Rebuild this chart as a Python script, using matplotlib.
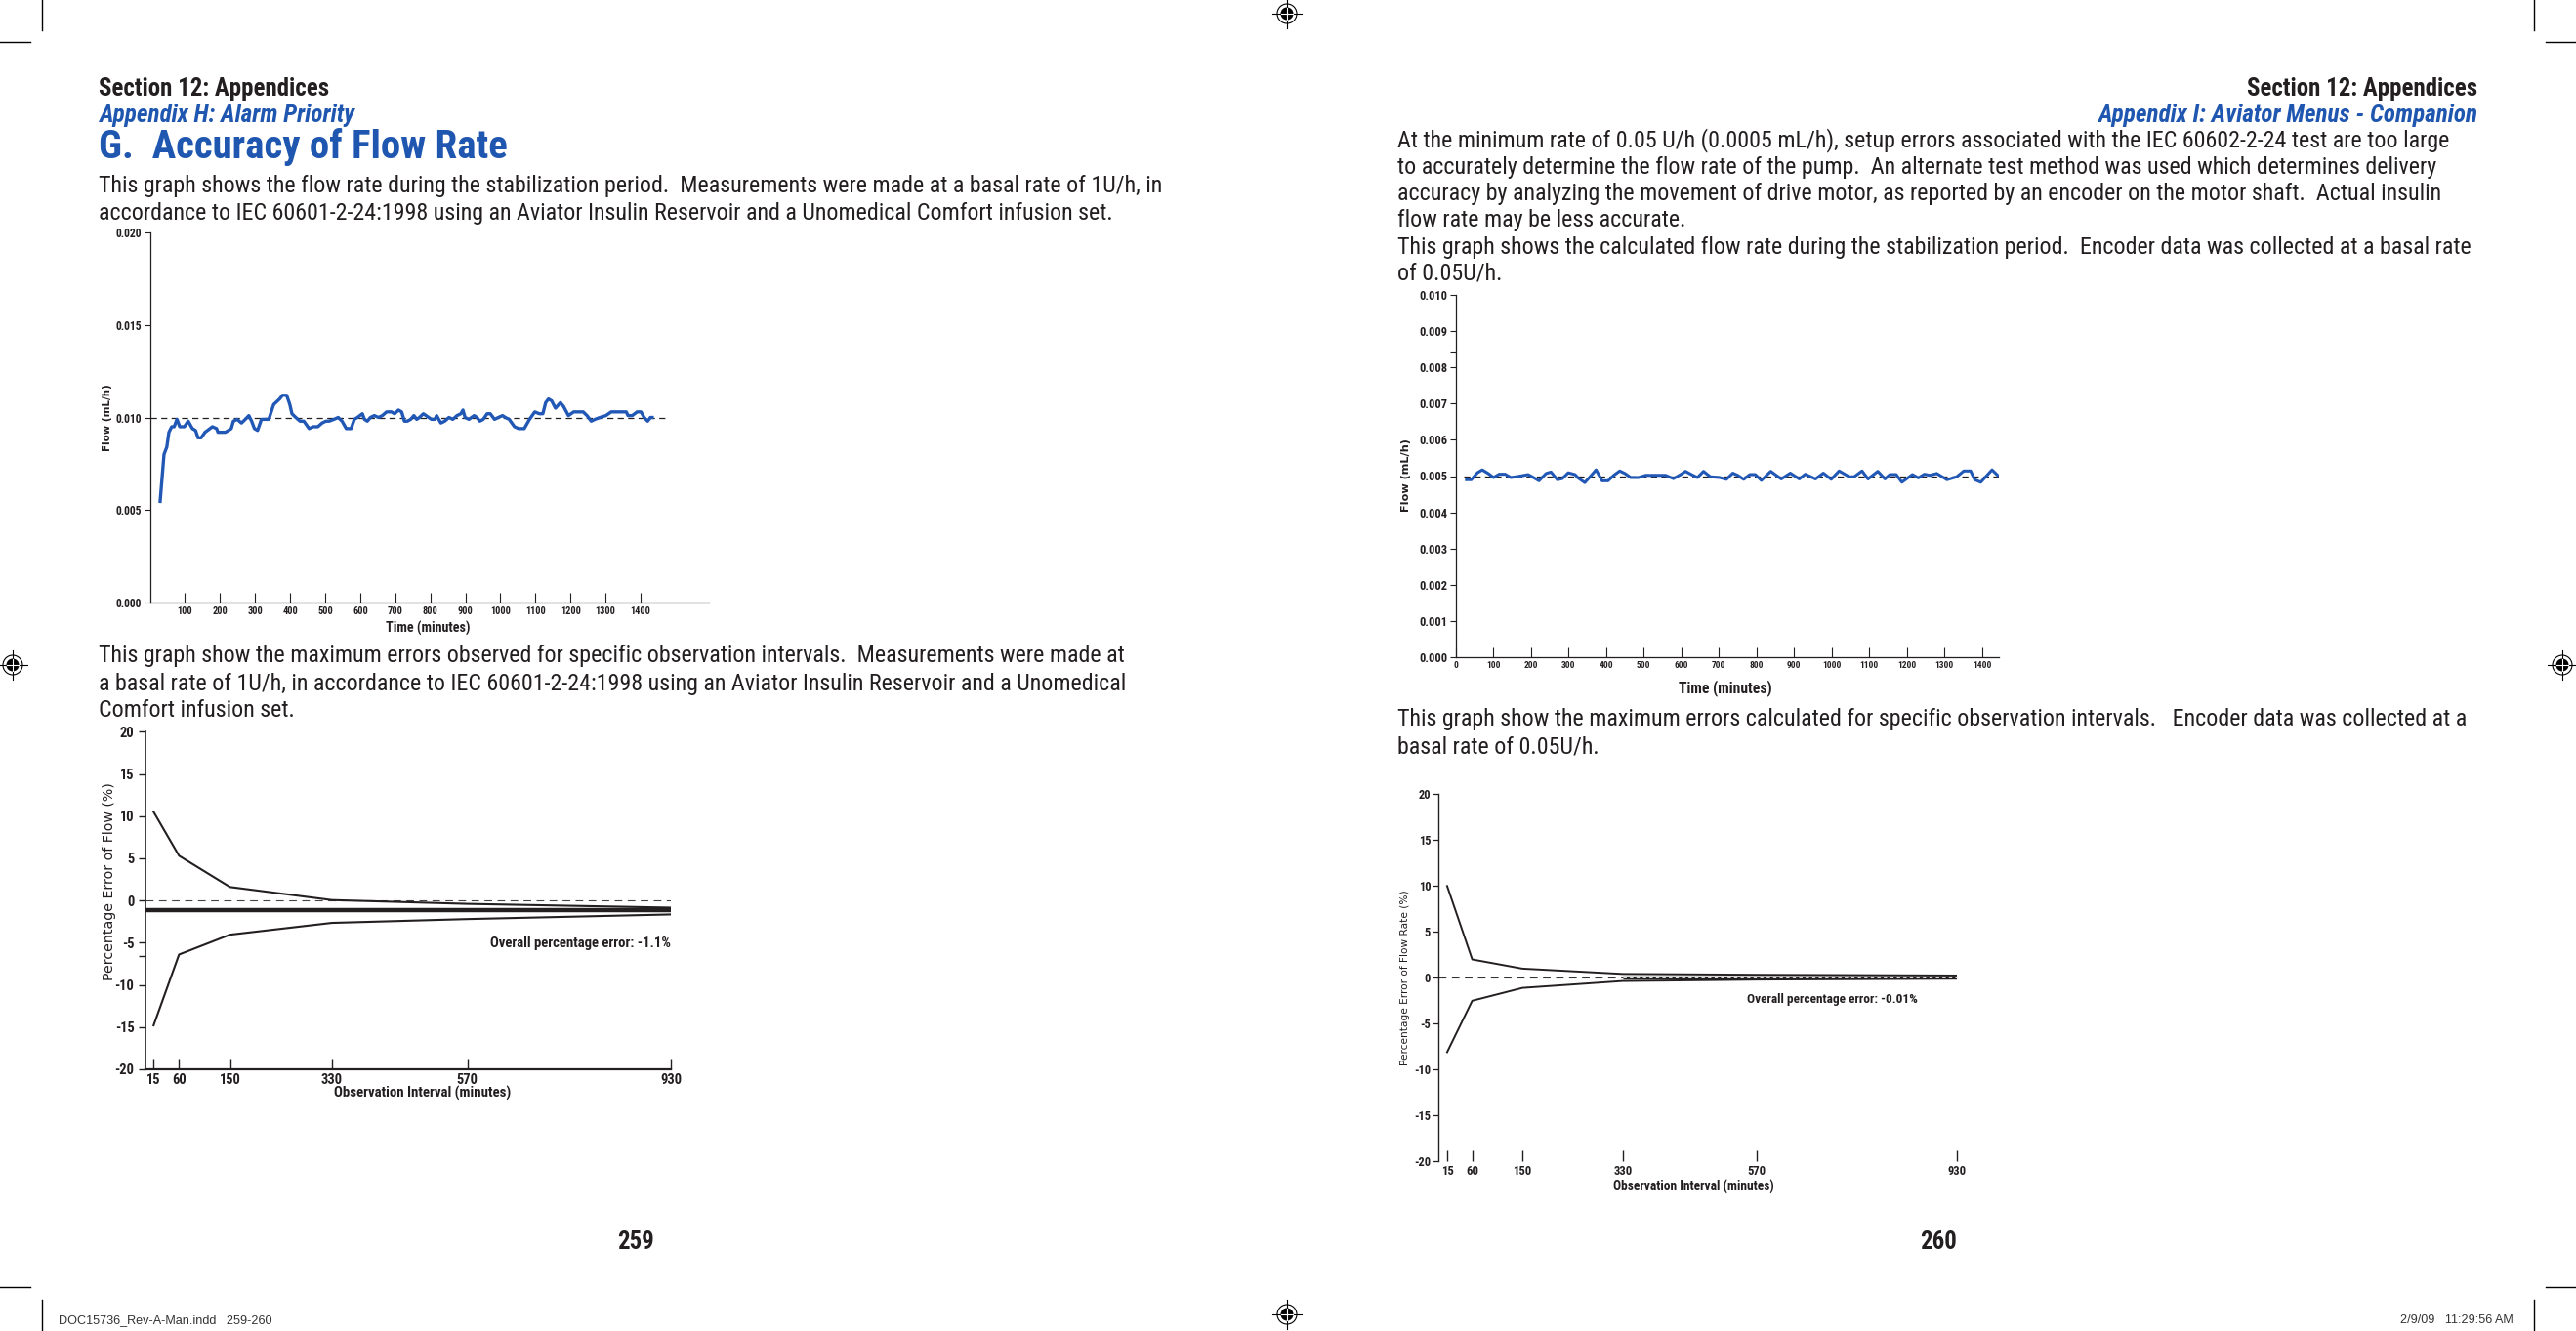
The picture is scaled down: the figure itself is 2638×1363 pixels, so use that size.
import matplotlib
matplotlib.use('Agg')
import matplotlib.pyplot as plt
from matplotlib.patches import Circle
from matplotlib import font_manager

# ---------------- data ----------------
# Chart 1: flow rate during stabilisation, basal 1 U/h
flow1_time = [29, 40, 48, 54, 62, 69, 77, 85, 98, 109, 121, 130, 137, 146, 157, 178, 190, 194, 215, 224,
              232, 238, 249, 261, 272, 282, 290, 298, 307, 318, 339, 353, 370, 378, 390, 399, 405, 416, 428, 439,
              454, 466, 479, 491, 502, 511, 525, 537, 548, 560, 574, 583, 592, 606, 612, 620, 629, 640, 652, 663,
              675, 689, 698, 709, 718, 726, 734, 744, 753, 761, 769, 780, 795, 803, 813, 818, 830, 841, 853, 864,
              876, 887, 893, 899, 910, 925, 933, 941, 951, 962, 971, 983, 994, 1006, 1014, 1025, 1040, 1052, 1068, 1083,
              1098, 1111, 1121, 1129, 1137, 1146, 1157, 1171, 1180, 1194, 1209, 1224, 1236, 1247, 1259, 1270, 1284, 1301, 1316, 1336,
              1359, 1364, 1376, 1390, 1401, 1410, 1420, 1428, 1433]
flow1_value = [0.00546, 0.0080, 0.0084, 0.0092, 0.0095, 0.0095, 0.0099, 0.0095, 0.0095, 0.0098, 0.0094, 0.0093, 0.0089, 0.0089, 0.0092, 0.0095, 0.0094, 0.0092, 0.0092, 0.0093,
               0.0094, 0.0098, 0.0099, 0.0097, 0.0099, 0.0101, 0.0098, 0.0094, 0.0093, 0.0099, 0.0099, 0.0107, 0.0110, 0.0112, 0.0112, 0.0107, 0.0102, 0.0100, 0.0098, 0.0098,
               0.0094, 0.0095, 0.0095, 0.0097, 0.0098, 0.0098, 0.0099, 0.0100, 0.0098, 0.0094, 0.0094, 0.0099, 0.0100, 0.0102, 0.0099, 0.0098, 0.0100, 0.0101, 0.0100, 0.0101,
               0.0103, 0.0103, 0.0102, 0.0104, 0.0103, 0.0098, 0.0098, 0.0099, 0.0101, 0.0099, 0.0100, 0.0102, 0.0100, 0.0099, 0.0099, 0.0101, 0.0097, 0.0098, 0.0100, 0.0099,
               0.0101, 0.0102, 0.0104, 0.0100, 0.0099, 0.0101, 0.0100, 0.0098, 0.0099, 0.0102, 0.0102, 0.0099, 0.0100, 0.0101, 0.0100, 0.0099, 0.0095, 0.0094, 0.0094, 0.0099,
               0.0103, 0.0102, 0.0102, 0.0108, 0.0110, 0.0109, 0.0105, 0.0108, 0.0106, 0.0101, 0.0103, 0.0103, 0.0103, 0.0101, 0.0098, 0.0099, 0.0100, 0.0101, 0.0103, 0.0103,
               0.0103, 0.0101, 0.0101, 0.0103, 0.0103, 0.0100, 0.0098, 0.0100, 0.0100]
flow1_nominal = 0.010
flow1_yticks = [0.000, 0.005, 0.010, 0.015, 0.020]
flow1_xticks = [100, 200, 300, 400, 500, 600, 700, 800, 900, 1000, 1100, 1200, 1300, 1400]

# Chart 2: trumpet curve, basal 1 U/h
interval = [15, 60, 150, 330, 570, 930]
err1_upper = [10.5, 5.3, 1.6, 0.05, -0.4, -0.85]
err1_lower = [-14.8, -6.4, -4.05, -2.65, -2.2, -1.65]
err1_overall = -1.15
err_yticks = [-20, -15, -10, -5, 0, 5, 10, 15, 20]

# Chart 3: calculated flow rate, basal 0.05 U/h
flow2_time = [28, 41, 57, 70, 86, 100, 115, 131, 146, 166, 192, 203, 221, 240, 253, 270, 283, 299, 317, 325,
              343, 357, 373, 389, 405, 420, 436, 450, 465, 486, 505, 528, 558, 579, 598, 611, 627, 643, 659, 677,
              702, 720, 737, 750, 766, 782, 797, 813, 838, 866, 890, 914, 930, 957, 978, 999, 1020, 1047, 1060, 1081,
              1097, 1123, 1142, 1155, 1172, 1187, 1215, 1231, 1247, 1261, 1280, 1307, 1333, 1352, 1370, 1381, 1397, 1427, 1442]
flow2_value = [0.00490, 0.00490, 0.00509, 0.00517, 0.00507, 0.00496, 0.00505, 0.00505, 0.00496, 0.00499, 0.00504, 0.00498, 0.00487, 0.00507, 0.00511, 0.00490, 0.00493, 0.00509, 0.00504, 0.00495,
               0.00482, 0.00498, 0.00517, 0.00487, 0.00487, 0.00502, 0.00514, 0.00507, 0.00496, 0.00496, 0.00502, 0.00502, 0.00502, 0.00493, 0.00504, 0.00513, 0.00504, 0.00496, 0.00513, 0.00498,
               0.00496, 0.00491, 0.00508, 0.00502, 0.00491, 0.00504, 0.00504, 0.00488, 0.00513, 0.00492, 0.00508, 0.00492, 0.00505, 0.00492, 0.00508, 0.00491, 0.00514, 0.00498, 0.00498, 0.00514,
               0.00492, 0.00513, 0.00492, 0.00504, 0.00504, 0.00483, 0.00504, 0.00495, 0.00505, 0.00502, 0.00507, 0.00490, 0.00498, 0.00514, 0.00514, 0.00490, 0.00483, 0.00517, 0.00502]
flow2_nominal = 0.005
flow2_yticks = [0.000, 0.001, 0.002, 0.003, 0.004, 0.005, 0.006, 0.007, 0.008, 0.009, 0.010]
flow2_xticks = [0, 100, 200, 300, 400, 500, 600, 700, 800, 900, 1000, 1100, 1200, 1300, 1400]

# Chart 4: trumpet curve, basal 0.05 U/h
err2_upper = [10.0, 2.0, 1.0, 0.42, 0.33, 0.25]
err2_lower = [-8.1, -2.5, -1.1, -0.35, -0.2, -0.08]
err2_overall = -0.01

# ---------------- fonts ----------------
def first_font(names):
    for n in names:
        try:
            font_manager.findfont(font_manager.FontProperties(family=n), fallback_to_default=False)
            return n
        except Exception:
            continue
    return 'DejaVu Sans'


NARROW = first_font(['Roboto Condensed', 'Liberation Sans Narrow', 'Arial Narrow', 'Liberation Sans'])
COND = [NARROW, 'DejaVu Sans']
WIDE = ['DejaVu Sans']
HELV = [first_font(['Liberation Sans', 'DejaVu Sans']), 'DejaVu Sans']

# ---------------- styling ----------------
W, H, DPI = 2638, 1363, 100
INK = '#231f20'
BLUE = '#2157b5'
HEAD_BLUE = '#1f56b0'

fig = plt.figure(figsize=(W / DPI, H / DPI), dpi=DPI)
fig.patch.set_facecolor('white')
renderer = fig.canvas.get_renderer()


def fit(s, width_px, weight='normal', style='normal', family=None, horizontal=True):
    """font size (pt) that makes string s span width_px pixels"""
    fam = family if family is not None else COND
    t = fig.text(0, 0, s, fontsize=20, fontweight=weight, fontstyle=style, family=fam)
    bb = t.get_window_extent(renderer)
    t.remove()
    return 20.0 * width_px / bb.width


def fx(x):
    return x / W


def fy(y):
    return 1 - y / H


def text(x, y, s, size, ha='left', va='center', weight='normal', style='normal',
         color=INK, family=None, rotation=0):
    fam = family if family is not None else COND
    fig.text(fx(x), fy(y), s, fontsize=size, ha=ha, va=va, fontweight=weight,
             fontstyle=style, color=color, family=fam, rotation=rotation,
             rotation_mode='anchor' if rotation else 'default')


def add_ax(l, r, t, b):
    ax = fig.add_axes([fx(l), fy(b), (r - l) / W, (b - t) / H])
    ax.set_facecolor('none')
    for s in ['top', 'right']:
        ax.spines[s].set_visible(False)
    for s in ['left', 'bottom']:
        ax.spines[s].set_color(INK)
    return ax


def style_ticklabels(ax, xsize, ysize):
    for lbl in ax.get_xticklabels():
        lbl.set_family(COND)
        lbl.set_fontweight('bold')
        lbl.set_fontsize(xsize)
        lbl.set_color(INK)
    for lbl in ax.get_yticklabels():
        lbl.set_family(COND)
        lbl.set_fontweight('bold')
        lbl.set_fontsize(ysize)
        lbl.set_color(INK)


# ---------------- page furniture ----------------
page = fig.add_axes([0, 0, 1, 1])
page.set_xlim(0, W)
page.set_ylim(H, 0)
page.axis('off')

crop_kw = dict(color='black', lw=1.0)
for (x0, x1, y0, y1) in [(43, 43, 0, 31), (0, 31, 43, 43),
                         (W - 43, W - 43, 0, 31), (W - 31, W, 43, 43),
                         (43, 43, 1331, H), (0, 31, 1318, 1318),
                         (W - 43, W - 43, 1331, H), (W - 31, W, 1318, 1318)]:
    page.plot([x0, x1], [y0, y1], **crop_kw)


def reg_mark(cx, cy):
    page.add_patch(Circle((cx, cy), 10, fill=False, ec='black', lw=0.8))
    page.add_patch(Circle((cx, cy), 6.5, fc='black', ec='none'))
    page.plot([cx - 15, cx + 15], [cy, cy], color='black', lw=0.8)
    page.plot([cx, cx], [cy - 15, cy + 15], color='black', lw=0.8)
    page.plot([cx - 6, cx + 6], [cy, cy], color='white', lw=0.8)
    page.plot([cx, cx], [cy - 6, cy + 6], color='white', lw=0.8)


for (cx, cy) in [(1318, 14), (1318, 1346), (13, 681), (2624, 681)]:
    reg_mark(cx, cy)

FOOT = fit('DOC15736_Rev-A-Man.indd   259-260', 218, family=HELV)
text(60, 1352, 'DOC15736_Rev-A-Man.indd   259-260', FOOT, family=HELV, color='#333333')
text(2574, 1352, '2/9/09   11:29:56 AM', FOOT, ha='right', family=HELV, color='#333333')

# ---------------- left page text ----------------
SEC = fit('Section 12: Appendices', 235, weight='bold')
APP = fit('Appendix H: Alarm Priority', 262, weight='bold', style='italic')
TITLE = fit('G.  Accuracy of Flow Rate', 419, weight='bold')
PARA = fit('This graph shows the flow rate during the stabilization period.  Measurements were made at a basal rate of 1U/h, in', 1090)

text(101, 91, 'Section 12: Appendices', SEC, weight='bold')
text(101, 118, 'Appendix H: Alarm Priority', APP, weight='bold', style='italic', color=HEAD_BLUE)
text(101, 150, 'G.  Accuracy of Flow Rate', TITLE, weight='bold', color=HEAD_BLUE)
text(101, 190, 'This graph shows the flow rate during the stabilization period.  Measurements were made at a basal rate of 1U/h, in', PARA)
text(101, 219, 'accordance to IEC 60601-2-24:1998 using an Aviator Insulin Reservoir and a Unomedical Comfort infusion set.', PARA)
text(101, 672, 'This graph show the maximum errors observed for specific observation intervals.  Measurements were made at', PARA)
text(101, 700, 'a basal rate of 1U/h, in accordance to IEC 60601-2-24:1998 using an Aviator Insulin Reservoir and a Unomedical', PARA)
text(101, 728, 'Comfort infusion set.', PARA)
text(651, 1272, '259', SEC, ha='center', weight='bold')

# ---------------- right page text ----------------
text(2537, 91, 'Section 12: Appendices', SEC, ha='right', weight='bold')
text(2537, 118, 'Appendix I: Aviator Menus - Companion', APP, ha='right', weight='bold', style='italic', color=HEAD_BLUE)
right_lines = [
    'At the minimum rate of 0.05 U/h (0.0005 mL/h), setup errors associated with the IEC 60602-2-24 test are too large',
    'to accurately determine the flow rate of the pump.  An alternate test method was used which determines delivery',
    'accuracy by analyzing the movement of drive motor, as reported by an encoder on the motor shaft.  Actual insulin',
    'flow rate may be less accurate.',
    'This graph shows the calculated flow rate during the stabilization period.  Encoder data was collected at a basal rate',
    'of 0.05U/h.',
]
for i, ln in enumerate(right_lines):
    text(1431, 144 + i * 27.3, ln, PARA)
text(1431, 736, 'This graph show the maximum errors calculated for specific observation intervals.   Encoder data was collected at a', PARA)
text(1431, 765, 'basal rate of 0.05U/h.', PARA)
text(1985, 1272, '260', SEC, ha='center', weight='bold')

# ---------------- chart 1 ----------------
ax1 = add_ax(153.6, 726.4, 238.3, 616.7)
ax1.set_xlim(0, 1596)
ax1.set_ylim(0, 0.020)
ax1.plot([0, 1470], [flow1_nominal, flow1_nominal], color=INK, lw=0.9, ls=(0, (5, 3.5)))
ax1.plot(flow1_time, flow1_value, color=BLUE, lw=2.4, solid_joinstyle='round')
ax1.set_yticks(flow1_yticks)
ax1.set_yticklabels(['%.3f' % v for v in flow1_yticks])
ax1.set_xticks(flow1_xticks)
ax1.set_xticklabels([str(v) for v in flow1_xticks])
ax1.tick_params(axis='y', direction='out', length=4, width=0.8, pad=2, colors=INK)
ax1.tick_params(axis='x', direction='in', length=7, width=0.8, pad=3, colors=INK)
for s in ['left', 'bottom']:
    ax1.spines[s].set_linewidth(0.9)
style_ticklabels(ax1, fit('1000', 21, weight='bold'), fit('0.020', 27, weight='bold'))
text(438, 643, 'Time (minutes)', fit('Time (minutes)', 86, weight='bold'), ha='center', weight='bold')
text(110, 428, 'Flow (mL/h)', fit('Flow (mL/h)', 68, weight='bold', family=WIDE), ha='center',
     weight='bold', rotation=90, family=WIDE)

# ---------------- chart 2 ----------------
ax2 = add_ax(148.6, 687.4, 749.3, 1095)
ax2.set_xlim(0, 930)
ax2.set_ylim(-20, 20)
ax2.plot([0, 930], [0, 0], color='#444444', lw=0.8, ls=(0, (7, 5)))
ax2.plot([0, 930], [err1_overall, err1_overall], color=INK, lw=3.2, solid_capstyle='butt')
ax2.plot(interval, err1_upper, color=INK, lw=1.5)
ax2.plot(interval, err1_lower, color=INK, lw=1.5)
ax2.set_yticks(err_yticks)
ax2.set_yticklabels([str(v) for v in err_yticks])
ax2.set_yticks([-6.6], minor=True)
ax2.set_xticks(interval)
ax2.set_xticklabels([str(v) for v in interval])
ax2.tick_params(axis='y', which='both', direction='out', length=5, width=1.0, pad=3, colors=INK)
ax2.tick_params(axis='x', direction='in', length=8, width=1.0, pad=3, colors=INK)
ax2.spines['left'].set_linewidth(1.2)
ax2.spines['bottom'].set_linewidth(1.6)
T2 = fit('330', 22, weight='bold')
style_ticklabels(ax2, T2, T2)
text(687, 966, 'Overall percentage error: -1.1%', fit('Overall percentage error: -1.1%', 185, weight='bold'),
     ha='right', weight='bold')
text(433, 1119, 'Observation Interval (minutes)', fit('Observation Interval (minutes)', 182, weight='bold'),
     ha='center', weight='bold')
text(112, 903, 'Percentage Error of Flow (%)', fit('Percentage Error of Flow (%)', 202, family=WIDE),
     ha='center', rotation=90, family=WIDE)

# ---------------- chart 3 ----------------
ax3 = add_ax(1491, 2046.5, 301.7, 673.3)
ax3.set_xlim(0, 1444)
ax3.set_ylim(0, 0.010)
ax3.plot([20, 1444], [flow2_nominal, flow2_nominal], color=INK, lw=0.9, ls=(0, (5, 3.5)))
ax3.plot(flow2_time, flow2_value, color=BLUE, lw=2.2, solid_joinstyle='round')
ax3.set_yticks(flow2_yticks)
ax3.set_yticklabels(['%.3f' % v for v in flow2_yticks])
ax3.set_yticks([0.00843], minor=True)
ax3.set_xticks(flow2_xticks)
ax3.set_xticklabels([str(v) for v in flow2_xticks])
ax3.tick_params(axis='y', which='both', direction='out', length=4, width=0.8, pad=2, colors=INK)
ax3.tick_params(axis='x', direction='in', length=7, width=0.8, pad=3, colors=INK)
for s in ['left', 'bottom']:
    ax3.spines[s].set_linewidth(0.9)
style_ticklabels(ax3, fit('1000', 19, weight='bold'), fit('0.010', 29, weight='bold'))
text(1767, 705, 'Time (minutes)', fit('Time (minutes)', 95, weight='bold'), ha='center', weight='bold')
text(1440, 487, 'Flow (mL/h)', fit('Flow (mL/h)', 75, weight='bold', family=WIDE), ha='center',
     weight='bold', rotation=90, family=WIDE)

# ---------------- chart 4 ----------------
ax4 = add_ax(1473.4, 2004.4, 813.3, 1189.3)
ax4.spines['bottom'].set_visible(False)
ax4.set_xlim(0, 930)
ax4.set_ylim(-20, 20)
ax4.plot([0, 930], [0, 0], color='#333333', lw=0.8, ls=(0, (7, 5)))
ax4.plot(interval, err2_upper, color=INK, lw=1.4)
ax4.plot(interval, err2_lower, color=INK, lw=1.4)
ax4.plot([330, 930], [err2_overall, err2_overall], color=INK, lw=2.4, solid_capstyle='butt')
ax4.plot([330, 930], [err2_overall, err2_overall], color='white', lw=0.6, ls=(0, (4, 4)))
ax4.set_yticks(err_yticks)
ax4.set_yticklabels([str(v) for v in err_yticks])
ax4.set_xticks(interval)
ax4.set_xticklabels([str(v) for v in interval])
ax4.tick_params(axis='y', direction='out', length=4, width=0.9, pad=2, colors=INK)
ax4.tick_params(axis='x', direction='in', length=8, width=1.0, pad=3, colors=INK)
ax4.spines['left'].set_linewidth(1.0)
style_ticklabels(ax4, fit('330', 19, weight='bold'), fit('-15', 17, weight='bold'))
text(1789, 1024, 'Overall percentage error: -0.01%', fit('Overall percentage error: -0.01%', 174, weight='bold'),
     weight='bold')
text(1734, 1215, 'Observation Interval (minutes)', fit('Observation Interval (minutes)', 165, weight='bold'),
     ha='center', weight='bold')
text(1439, 1001, 'Percentage Error of Flow Rate (%)', fit('Percentage Error of Flow Rate (%)', 178, family=WIDE),
     ha='center', rotation=90, family=WIDE)

fig.savefig('out.png', dpi=DPI, facecolor='white')
